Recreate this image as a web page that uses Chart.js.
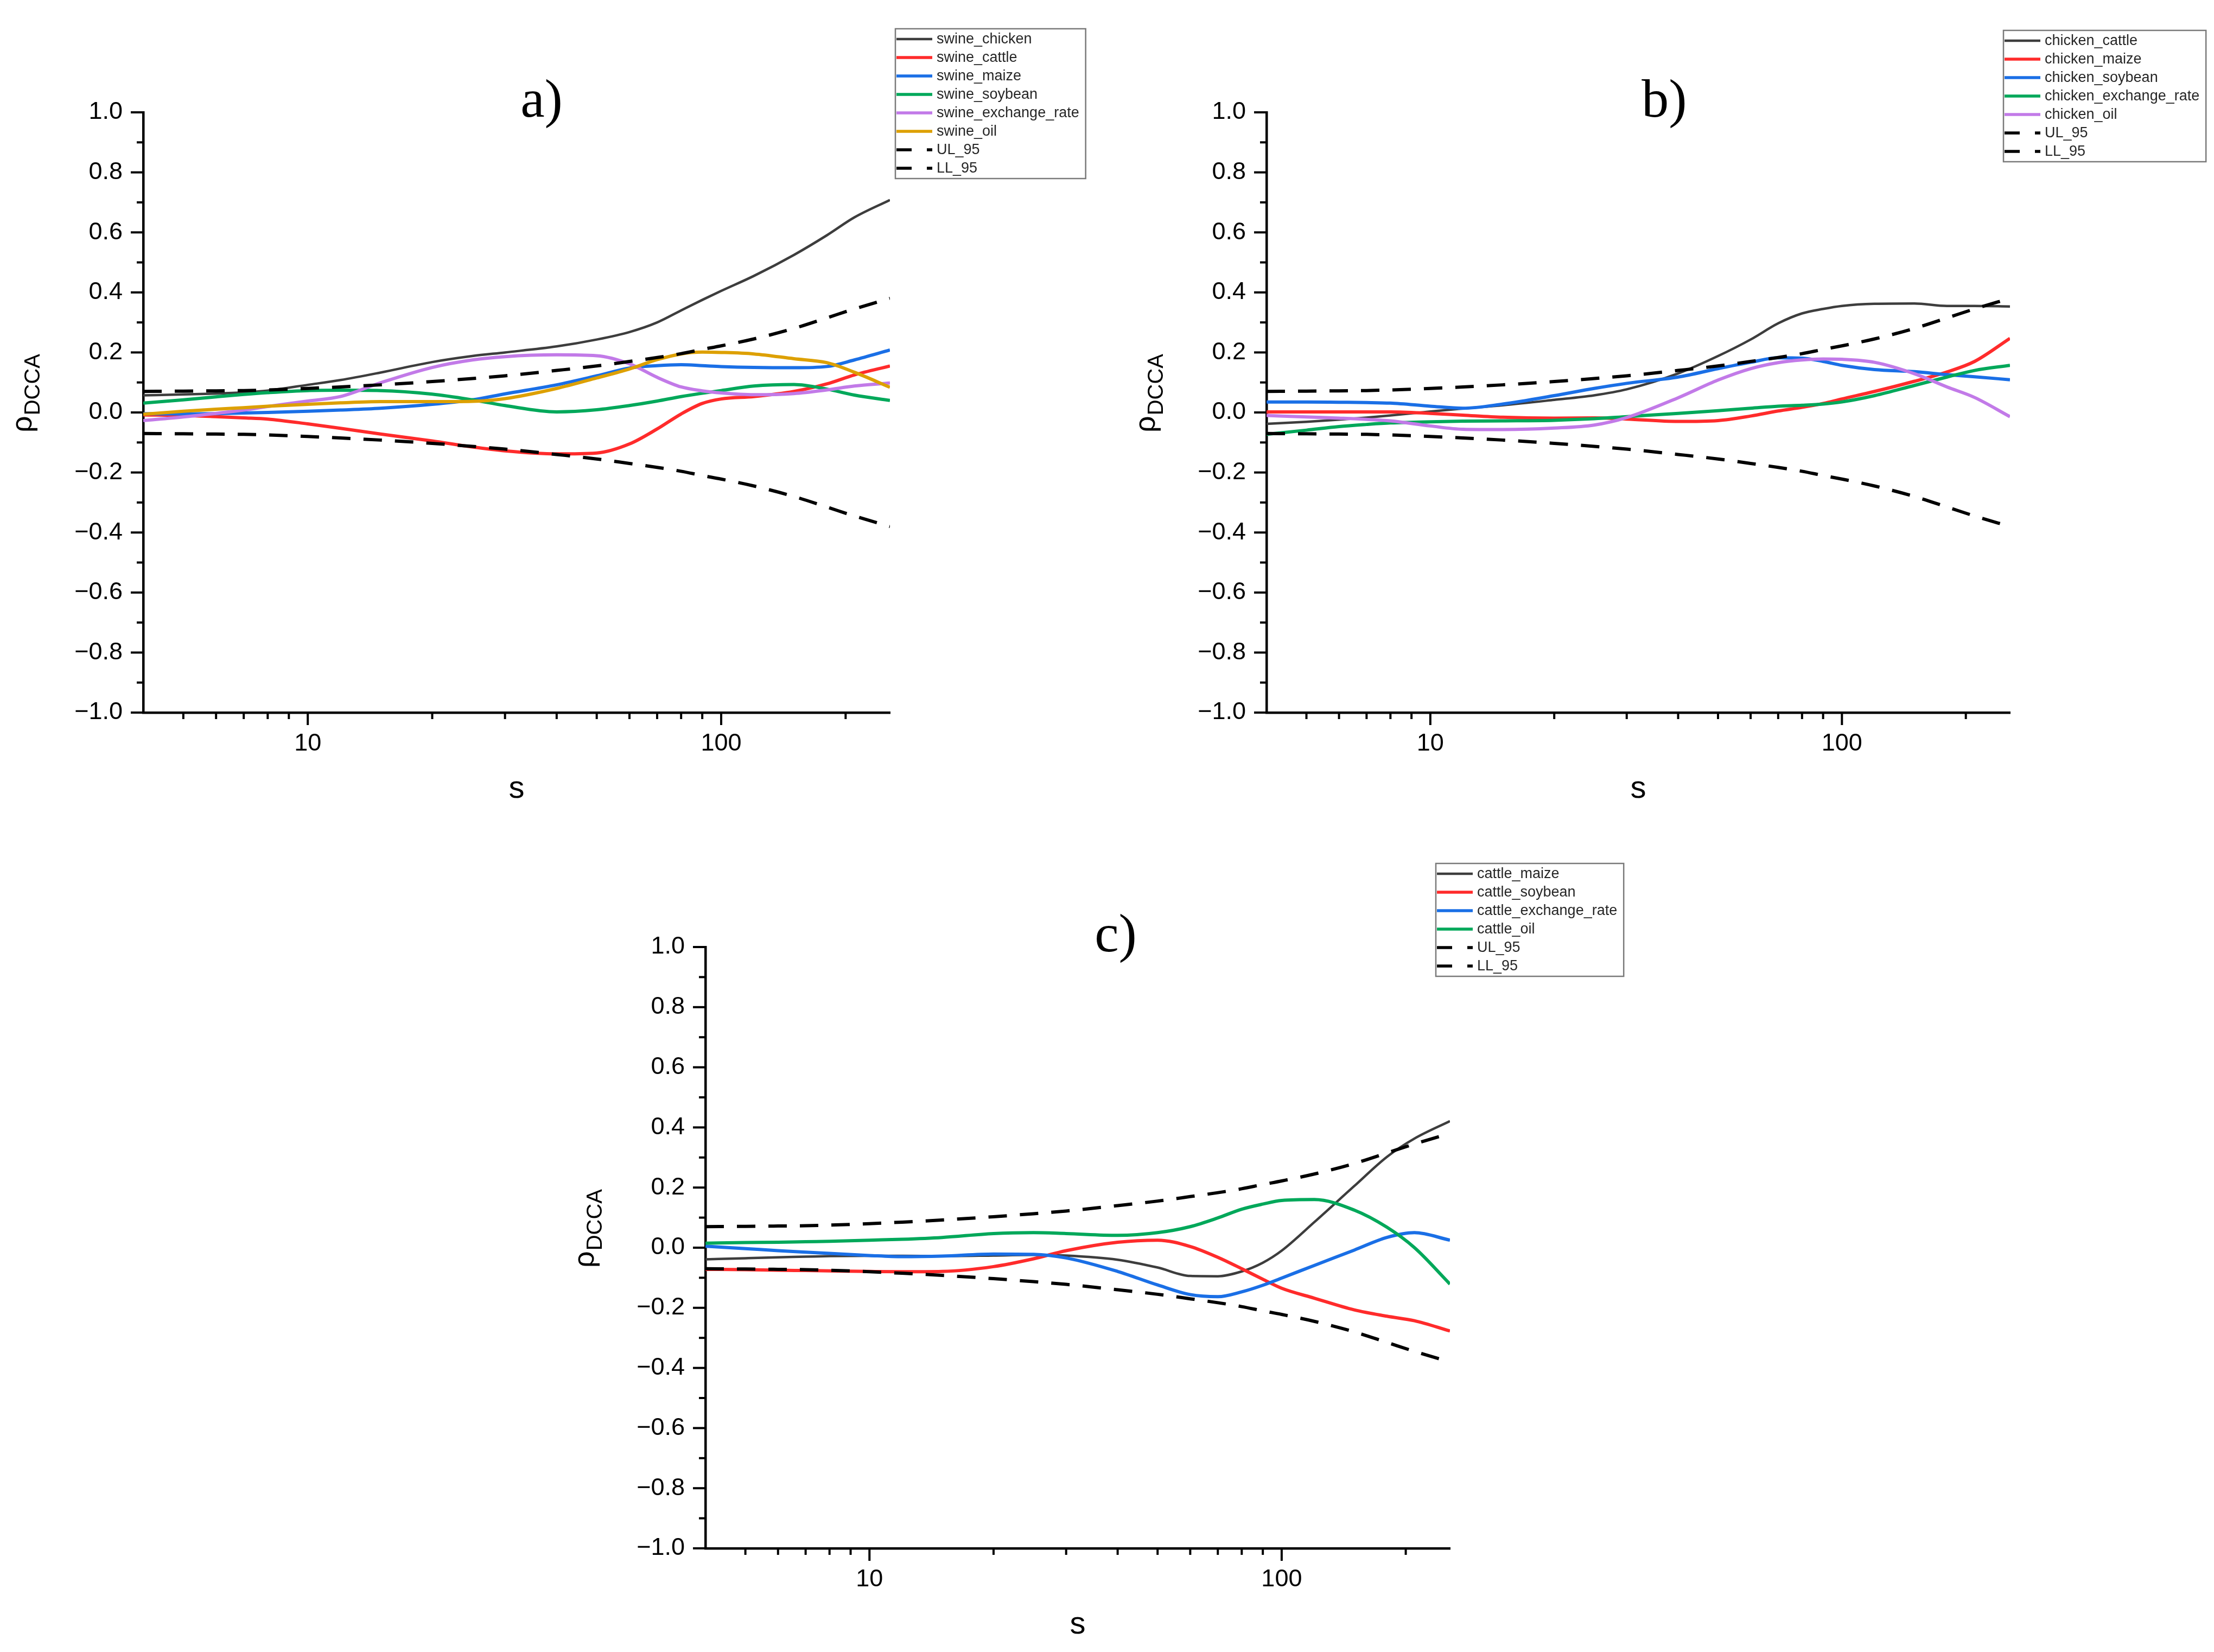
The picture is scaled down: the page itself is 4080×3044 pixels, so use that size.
<!DOCTYPE html>
<html>
<head>
<meta charset="utf-8">
<script src="https://cdn.jsdelivr.net/npm/chart.js@4.4.1/dist/chart.umd.min.js"></script>
<style>
html,body{margin:0;padding:0;background:#fff;width:4080px;height:3044px;overflow:hidden;}
canvas{position:absolute;}
</style>
</head>
<body>
<canvas id="pa" width="2040" height="1522" style="left:0px;top:0px;width:2040px;height:1522px"></canvas>
<canvas id="pb" width="2040" height="1522" style="left:2040px;top:0px;width:2040px;height:1522px"></canvas>
<canvas id="pc" width="2040" height="1522" style="left:1020px;top:1522px;width:2040px;height:1522px"></canvas>
<script>
// ---------------- data ----------------
const S = [4,5,6,7,8,10,12,15,20,25,30,40,50,60,70,80,90,100,120,150,180,210,256];
const X_TICKS = [5,6,7,8,9,10,20,30,40,50,60,70,80,90,100,200];
const X_LABELED = [10,100];

const UL_95 = [0.070,0.071,0.072,0.073,0.075,0.080,0.085,0.092,0.103,0.113,0.122,0.140,0.155,0.170,0.183,0.196,0.210,0.222,0.245,0.280,0.315,0.345,0.380];
const LL_95 = [-0.070,-0.071,-0.072,-0.073,-0.075,-0.080,-0.085,-0.092,-0.103,-0.113,-0.122,-0.140,-0.155,-0.170,-0.183,-0.196,-0.210,-0.222,-0.245,-0.280,-0.315,-0.345,-0.380];

// panel a
const swine_chicken = [0.057,0.060,0.063,0.067,0.073,0.092,0.108,0.133,0.168,0.188,0.200,0.220,0.243,0.268,0.300,0.340,0.375,0.405,0.455,0.525,0.590,0.650,0.708];
const swine_cattle = [-0.008,-0.010,-0.014,-0.018,-0.022,-0.038,-0.053,-0.072,-0.095,-0.115,-0.128,-0.138,-0.135,-0.105,-0.055,-0.005,0.030,0.045,0.053,0.070,0.095,0.125,0.155];
const swine_maize = [-0.004,-0.005,-0.004,-0.002,0.000,0.004,0.008,0.014,0.027,0.042,0.062,0.092,0.122,0.148,0.156,0.159,0.156,0.153,0.150,0.149,0.153,0.175,0.208];
const swine_soybean = [0.031,0.042,0.052,0.060,0.066,0.073,0.074,0.073,0.061,0.042,0.023,0.002,0.009,0.023,0.038,0.053,0.064,0.073,0.088,0.093,0.078,0.058,0.040];
const swine_exchange_rate = [-0.027,-0.015,-0.003,0.008,0.020,0.038,0.053,0.099,0.150,0.175,0.186,0.192,0.189,0.162,0.117,0.085,0.072,0.065,0.059,0.063,0.075,0.088,0.098];
const swine_oil = [-0.006,0.004,0.011,0.016,0.021,0.027,0.032,0.036,0.036,0.037,0.046,0.080,0.115,0.145,0.176,0.195,0.201,0.200,0.195,0.179,0.166,0.134,0.084];

// panel b
const chicken_cattle = [-0.038,-0.031,-0.024,-0.017,-0.010,0.003,0.013,0.024,0.042,0.057,0.077,0.130,0.188,0.243,0.297,0.330,0.345,0.355,0.362,0.363,0.355,0.355,0.353];
const chicken_maize = [0.002,0.002,0.002,0.002,0.002,-0.003,-0.009,-0.016,-0.019,-0.018,-0.022,-0.030,-0.027,-0.012,0.005,0.017,0.030,0.045,0.070,0.104,0.135,0.170,0.247];
const chicken_soybean = [0.035,0.035,0.034,0.033,0.031,0.021,0.014,0.028,0.056,0.080,0.097,0.118,0.146,0.167,0.182,0.181,0.170,0.157,0.143,0.136,0.126,0.119,0.109];
const chicken_exchange_rate = [-0.073,-0.059,-0.047,-0.040,-0.035,-0.031,-0.029,-0.028,-0.026,-0.021,-0.014,-0.003,0.006,0.014,0.021,0.024,0.028,0.035,0.056,0.090,0.118,0.140,0.157];
const chicken_oil = [-0.010,-0.015,-0.019,-0.023,-0.028,-0.045,-0.056,-0.057,-0.052,-0.042,-0.017,0.049,0.108,0.146,0.166,0.175,0.178,0.177,0.167,0.129,0.085,0.050,-0.014];

// panel c
const cattle_maize = [-0.039,-0.035,-0.032,-0.030,-0.028,-0.027,-0.027,-0.028,-0.026,-0.024,-0.026,-0.040,-0.066,-0.094,-0.095,-0.079,-0.050,-0.010,0.085,0.205,0.302,0.363,0.421];
const cattle_soybean = [-0.072,-0.073,-0.075,-0.076,-0.077,-0.079,-0.080,-0.079,-0.063,-0.037,-0.010,0.018,0.025,0.004,-0.032,-0.070,-0.105,-0.135,-0.168,-0.207,-0.228,-0.243,-0.277];
const cattle_exchange_rate = [0.005,-0.003,-0.010,-0.015,-0.019,-0.026,-0.030,-0.028,-0.021,-0.022,-0.034,-0.079,-0.124,-0.156,-0.163,-0.147,-0.125,-0.101,-0.059,-0.008,0.034,0.050,0.025];
const cattle_oil = [0.015,0.017,0.018,0.020,0.021,0.025,0.028,0.034,0.047,0.050,0.047,0.041,0.050,0.070,0.099,0.128,0.145,0.157,0.160,0.125,0.068,0.000,-0.121];

// ---------------- style ----------------
const FONT = '"Liberation Sans", Arial, sans-serif';
const COL = {black:'#3d3d3d', red:'#ff2b2b', blue:'#1a6fe6', green:'#00a85a', purple:'#c27ae8', orange:'#dda000', dash:'#000000'};
const CW = 2040, CH = 1522, XH = 190;

function solid(label, data, color, w) { return {label, data, color, width: w || 6, dash: null}; }
function dashed(label, data) { return {label, data, color: COL.dash, width: 6, dash: [34, 24]}; }

const panels = [
  { id:'pa', title:'a)', titleDx:46, area:{left:264,right:1640,top:207,bottom:1313}, legend:{x:1650,y:53},
    series:[
      solid('swine_chicken', swine_chicken, COL.black, 4.5),
      solid('swine_cattle', swine_cattle, COL.red),
      solid('swine_maize', swine_maize, COL.blue),
      solid('swine_soybean', swine_soybean, COL.green),
      solid('swine_exchange_rate', swine_exchange_rate, COL.purple),
      solid('swine_oil', swine_oil, COL.orange),
      dashed('UL_95', UL_95),
      dashed('LL_95', LL_95)
    ]},
  { id:'pb', title:'b)', titleDx:48, area:{left:294,right:1664,top:207,bottom:1313}, legend:{x:1652,y:56},
    series:[
      solid('chicken_cattle', chicken_cattle, COL.black, 4.5),
      solid('chicken_maize', chicken_maize, COL.red),
      solid('chicken_soybean', chicken_soybean, COL.blue),
      solid('chicken_exchange_rate', chicken_exchange_rate, COL.green),
      solid('chicken_oil', chicken_oil, COL.purple),
      dashed('UL_95', UL_95),
      dashed('LL_95', LL_95)
    ]},
  { id:'pc', title:'c)', titleDx:70, area:{left:280,right:1652,top:223,bottom:1331}, legend:{x:1626,y:69},
    series:[
      solid('cattle_maize', cattle_maize, COL.black, 4.5),
      solid('cattle_soybean', cattle_soybean, COL.red),
      solid('cattle_exchange_rate', cattle_exchange_rate, COL.blue),
      solid('cattle_oil', cattle_oil, COL.green),
      dashed('UL_95', UL_95),
      dashed('LL_95', LL_95)
    ]}
];

const decor = {
  id: 'decor',
  afterDraw(chart, args, o) {
    const ctx = chart.ctx, ca = chart.chartArea;
    const xs = chart.scales.x, ys = chart.scales.y;
    ctx.save();
    // tick marks
    ctx.strokeStyle = '#000'; ctx.lineWidth = 4; ctx.lineCap = 'butt';
    ys.ticks.forEach((t, i) => {
      const py = ys.getPixelForValue(t.value);
      ctx.beginPath(); ctx.moveTo(ca.left - 23, py); ctx.lineTo(ca.left, py); ctx.stroke();
      if (i < ys.ticks.length - 1) {
        const pm = ys.getPixelForValue((t.value + ys.ticks[i + 1].value) / 2);
        ctx.beginPath(); ctx.moveTo(ca.left - 12, pm); ctx.lineTo(ca.left, pm); ctx.stroke();
      }
    });
    X_TICKS.forEach(v => {
      const px = xs.getPixelForValue(v);
      const len = X_LABELED.includes(v) ? 23 : 12;
      ctx.beginPath(); ctx.moveTo(px, ca.bottom); ctx.lineTo(px, ca.bottom + len); ctx.stroke();
    });
    // panel title
    ctx.fillStyle = '#000';
    ctx.font = '100px "Liberation Serif", "Times New Roman", serif';
    ctx.textAlign = 'center'; ctx.textBaseline = 'alphabetic';
    ctx.fillText(o.title, (ca.left + ca.right) / 2 + o.titleDx, ca.top + 8);
    // y axis label rho_DCCA
    ctx.save();
    ctx.translate(ca.left - 206, (ca.top + ca.bottom) / 2 - 35);
    ctx.rotate(-Math.PI / 2);
    ctx.textAlign = 'left'; ctx.textBaseline = 'alphabetic';
    ctx.font = '54px ' + FONT;
    const w1 = ctx.measureText('\u03C1').width;
    ctx.font = '40px ' + FONT;
    const w2 = ctx.measureText('DCCA').width;
    const x0 = -(w1 + w2) / 2;
    ctx.font = '54px ' + FONT;
    ctx.fillText('\u03C1', x0, 0);
    ctx.font = '40px ' + FONT;
    ctx.fillText('DCCA', x0 + w1 + 1, 15);
    ctx.restore();
    // legend box
    const ds = chart.data.datasets;
    const rowH = 34, sampleL = 66;
    ctx.font = '27px ' + FONT;
    let maxW = 0;
    ds.forEach(d => { maxW = Math.max(maxW, ctx.measureText(d.label).width); });
    const lx = o.legend.x, ly = o.legend.y;
    const lw = 2 + sampleL + 8 + maxW + 12;
    const lh = ds.length * rowH + 4;
    ctx.fillStyle = '#fff';
    ctx.fillRect(lx, ly, lw, lh);
    ctx.strokeStyle = '#7a7a7a'; ctx.lineWidth = 2.5;
    ctx.strokeRect(lx, ly, lw, lh);
    ds.forEach((d, i) => {
      const cy = ly + 2 + rowH / 2 + i * rowH;
      ctx.strokeStyle = d.borderColor; ctx.lineWidth = Math.min(d.borderWidth, 5.5);
      ctx.setLineDash(d.borderDash && d.borderDash.length ? [28, 28] : []);
      ctx.beginPath(); ctx.moveTo(lx + 2, cy); ctx.lineTo(lx + 2 + sampleL, cy); ctx.stroke();
      ctx.setLineDash([]);
      ctx.fillStyle = '#262626'; ctx.textAlign = 'left'; ctx.textBaseline = 'middle';
      ctx.fillText(d.label, lx + 2 + sampleL + 8, cy + 1);
    });
    ctx.restore();
  }
};

function fmtY(v) {
  if (Math.abs(v) < 1e-9) return '0.0';
  return (v < 0 ? '\u2212' : '') + Math.abs(v).toFixed(1);
}

panels.forEach(p => {
  const n = p.series.length;
  const datasets = p.series.map((s, i) => ({
    label: s.label,
    data: S.map((x, k) => ({x: x, y: s.data[k]})),
    borderColor: s.color,
    backgroundColor: s.color,
    borderWidth: s.width,
    borderDash: s.dash || [],
    borderCapStyle: 'butt',
    pointRadius: 0,
    pointHoverRadius: 0,
    fill: false,
    cubicInterpolationMode: 'monotone',
    order: n - i
  }));
  new Chart(document.getElementById(p.id), {
    type: 'line',
    data: { datasets },
    plugins: [decor],
    options: {
      responsive: false,
      maintainAspectRatio: false,
      devicePixelRatio: 1,
      animation: false,
      events: [],
      layout: { padding: { left: 0, top: p.area.top, right: CW - p.area.right, bottom: CH - p.area.bottom - XH } },
      plugins: {
        legend: { display: false },
        tooltip: { enabled: false },
        title: { display: false },
        decor: { title: p.title, titleDx: p.titleDx, legend: p.legend }
      },
      scales: {
        x: {
          type: 'logarithmic', position: 'bottom', min: 4, max: 256,
          afterFit: sc => { sc.height = XH; },
          afterBuildTicks: sc => { sc.ticks = X_TICKS.map(v => ({ value: v })); },
          ticks: {
            autoSkip: false, maxRotation: 0, minRotation: 0, padding: 8, color: '#000',
            font: { family: FONT, size: 45 },
            callback: v => X_LABELED.includes(v) ? String(v) : ''
          },
          grid: { display: true, drawOnChartArea: false, drawTicks: true, tickLength: 23, tickColor: 'rgba(0,0,0,0)' },
          border: { display: true, color: '#000', width: 4.5 },
          title: { display: true, text: 's', color: '#000', font: { family: FONT, size: 58 }, padding: { top: 0, bottom: 14 } }
        },
        y: {
          type: 'linear', position: 'left', min: -1, max: 1,
          afterFit: sc => { sc.width = p.area.left; },
          ticks: {
            stepSize: 0.2, padding: 15, color: '#000',
            font: { family: FONT, size: 45 },
            callback: v => fmtY(v)
          },
          grid: { display: true, drawOnChartArea: false, drawTicks: true, tickLength: 23, tickColor: 'rgba(0,0,0,0)' },
          border: { display: true, color: '#000', width: 4.5 }
        }
      }
    }
  });
});
</script>
</body>
</html>
